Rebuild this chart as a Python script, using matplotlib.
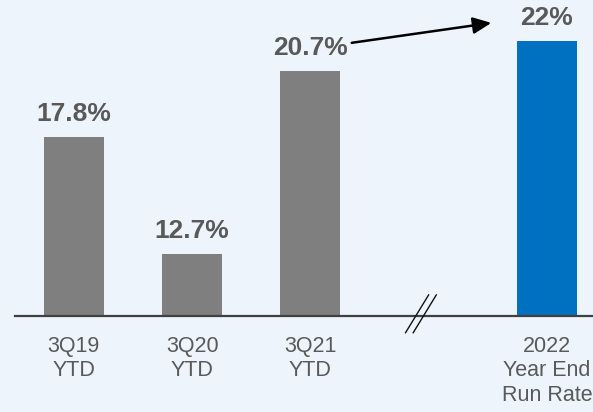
import matplotlib.pyplot as plt

plt.rcParams['font.family'] = ['Liberation Sans', 'DejaVu Sans']

labels = ['3Q19\nYTD', '3Q20\nYTD', '3Q21\nYTD', '2022\nYear End\nRun Rate']
positions = [0, 1, 2, 4]
values = [17.8, 12.7, 20.7, 22.0]
colors = ['#7f7f7f', '#7f7f7f', '#7f7f7f', '#0070c0']
break_x = 2.94

bg = '#eef4fb'
text_col = '#595959'

fig = plt.figure(figsize=(5.93, 4.12), dpi=100, facecolor=bg)
ax = fig.add_axes([15 / 593, 96 / 412, 578 / 593, 316 / 412])
ax.set_facecolor(bg)

ax.bar(positions, values, width=0.505, color=colors, zorder=2)

for x, v in zip(positions, values):
    ax.annotate(f'{v:g}%', (x, v), xytext=(0, 11.5), textcoords='offset points',
                ha='center', va='baseline', fontsize=19, fontweight='bold',
                color=text_col)

# arrow from the 3Q21 label to the 2022 label
ax.annotate('', xy=(3.53, 22.8), xytext=(2.35, 21.93),
            arrowprops=dict(arrowstyle='-|>,head_length=1.1,head_width=0.5',
                            color='black', lw=1.8, shrinkA=0, shrinkB=0))

ax.set_xlim(-0.497, 4.39)
ax.set_ylim(10, 23.8)
ax.set_xticks(positions)
ax.set_xticklabels(labels, fontsize=15.5, color=text_col, linespacing=1.2)
ax.tick_params(axis='x', length=0, pad=14.5)
ax.set_yticks([])

for s in ['top', 'left', 'right']:
    ax.spines[s].set_visible(False)
ax.spines['bottom'].set_color('#404040')
ax.spines['bottom'].set_linewidth(1.6)

# axis break marks
for dx in [0, 0.065]:
    ax.plot([break_x - 0.135 + dx, break_x + 0.06 + dx], [9.27, 10.92],
            color='#111111', lw=1.0, clip_on=False, zorder=3)

fig.savefig('out.png', dpi=100, facecolor=bg)
